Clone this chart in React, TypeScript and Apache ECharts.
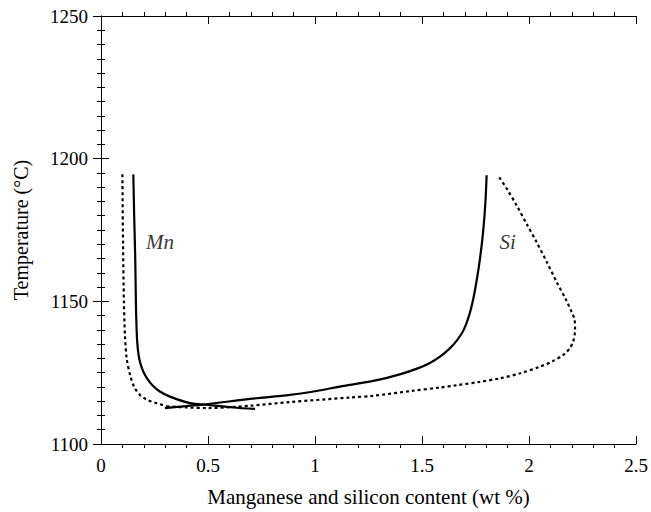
import React, { useEffect, useRef } from "react";
import * as echarts from "echarts";

// Solid curves
const mnSolidX = [0.151, 0.155, 0.160, 0.163, 0.166, 0.170, 0.176, 0.185, 0.198, 0.215, 0.240, 0.275, 0.322, 0.416, 0.501, 0.618, 0.720];
const mnSolidT = [1194.5, 1180, 1165, 1150, 1141, 1135, 1131, 1128, 1125.3, 1123, 1120.6, 1118.4, 1116.6, 1114.3, 1113.7, 1112.8, 1112.3];

const siSolidX = [0.299, 0.400, 0.501, 0.696, 0.883, 1.000, 1.117, 1.272, 1.400, 1.480, 1.537, 1.584, 1.630, 1.665, 1.695, 1.720, 1.740, 1.757, 1.771, 1.783, 1.792, 1.798, 1.802];
const siSolidT = [1112.6, 1113.3, 1114.0, 1115.8, 1117.2, 1118.5, 1120.1, 1122.1, 1124.5, 1126.5, 1128.4, 1130.6, 1133.5, 1136.5, 1140, 1145, 1151, 1158, 1165, 1172.5, 1180, 1187, 1194.2];

// Dashed curves
const mnDashX = [0.100, 0.103, 0.107, 0.112, 0.120, 0.136, 0.155, 0.182, 0.220, 0.260, 0.307];
const mnDashT = [1194.5, 1170, 1150, 1138, 1130, 1124.2, 1120, 1117.2, 1115.3, 1114.3, 1113.2];

const siDashX = [0.307, 0.400, 0.500, 0.696, 0.883, 1.164, 1.272, 1.450, 1.584, 1.662, 1.770, 1.864, 1.960, 2.051, 2.110, 2.160, 2.190, 2.207, 2.215, 2.213, 2.199, 2.170, 2.129, 2.085, 2.036, 1.990, 1.943, 1.900, 1.857];
const siDashT = [1113.2, 1112.8, 1112.6, 1113.4, 1114.7, 1116.3, 1116.9, 1118.6, 1119.8, 1120.6, 1121.8, 1123.0, 1124.8, 1127.1, 1129, 1131.2, 1133.5, 1136, 1140, 1143.5, 1146.3, 1151, 1156.8, 1163.5, 1170.7, 1177, 1183.5, 1189, 1193.9];

const curveLabels = ["Mn", "Si"];
const labelX = [0.276, 1.9];
const labelT = [1170.8, 1170.8];

const xTicks = [0, 0.5, 1, 1.5, 2, 2.5];
const yTicks = [1100, 1150, 1200, 1250];

const pair = (xs: number[], ys: number[]) => xs.map((x, i) => [x, ys[i]]);

export default function App() {
  const ref = useRef<HTMLDivElement>(null);
  useEffect(() => {
    if (!ref.current) return;
    const chart = echarts.init(ref.current, null, { renderer: "svg" });
    const font = "Liberation Serif";
    const axisLine = { show: true, lineStyle: { color: "#000", width: 1 } };
    const axisTick = { show: true, inside: true, length: 8, lineStyle: { color: "#000" } };
    const xMinor = { show: true, splitNumber: 5, length: -4, lineStyle: { color: "#000" } };
    const yMinor = { show: true, splitNumber: 10, length: -4, lineStyle: { color: "#000" } };
    const solid = { color: "#000", width: 2.2, type: "solid" as const };
    const dashed = { color: "#000", width: 2.2, type: [3, 3] as any };
    chart.setOption({
      animation: false,
      backgroundColor: "#fff",
      grid: { left: 101, top: 16, right: 15, bottom: 66 },
      xAxis: [
        {
          type: "value",
          min: xTicks[0],
          max: xTicks[xTicks.length - 1],
          interval: 0.5,
          name: "Manganese and silicon content (wt %)",
          nameLocation: "middle",
          nameGap: 42,
          nameTextStyle: { fontFamily: font, fontSize: 21, color: "#000" },
          axisLabel: {
            fontFamily: font,
            fontSize: 19,
            color: "#000",
            margin: 12,
            formatter: (v: number) => String(v),
          },
          axisLine,
          axisTick,
          minorTick: xMinor,
          splitLine: { show: false },
        },
        {
          type: "value",
          position: "top",
          min: xTicks[0],
          max: xTicks[xTicks.length - 1],
          interval: 0.5,
          axisLabel: { show: false },
          axisLine,
          axisTick,
          minorTick: xMinor,
          splitLine: { show: false },
        },
      ],
      yAxis: [
        {
          type: "value",
          min: yTicks[0],
          max: yTicks[yTicks.length - 1],
          interval: 50,
          name: "Temperature (°C)",
          nameLocation: "middle",
          nameGap: 70,
          nameTextStyle: { fontFamily: font, fontSize: 20, color: "#000" },
          axisLabel: {
            fontFamily: font,
            fontSize: 19,
            color: "#000",
            margin: 13,
            formatter: (v: number) => String(v),
          },
          axisLine,
          axisTick,
          minorTick: yMinor,
          splitLine: { show: false },
        },
        {
          type: "value",
          position: "right",
          min: yTicks[0],
          max: yTicks[yTicks.length - 1],
          interval: 50,
          axisLabel: { show: false },
          axisLine,
          axisTick,
          minorTick: yMinor,
          splitLine: { show: false },
        },
      ],
      series: [
        { type: "line", data: pair(mnSolidX, mnSolidT), smooth: 0.3, showSymbol: false, lineStyle: solid },
        { type: "line", data: pair(siSolidX, siSolidT), smooth: 0.3, showSymbol: false, lineStyle: solid },
        { type: "line", data: pair(mnDashX, mnDashT), smooth: 0.3, showSymbol: false, lineStyle: dashed },
        { type: "line", data: pair(siDashX, siDashT), smooth: 0.3, showSymbol: false, lineStyle: dashed },
        {
          type: "scatter",
          symbolSize: 0,
          data: curveLabels.map((n, i) => ({ value: [labelX[i], labelT[i]], name: n })),
          label: {
            show: true,
            position: "inside",
            formatter: (p: any) => p.name,
            fontFamily: font,
            fontStyle: "italic",
            fontSize: 21,
            color: "#000",
          },
        },
      ],
    });
    return () => chart.dispose();
  }, []);
  return (
    <div
      ref={ref}
      style={{ position: "absolute", left: 0, top: 0, width: 651, height: 512 }}
    />
  );
}
